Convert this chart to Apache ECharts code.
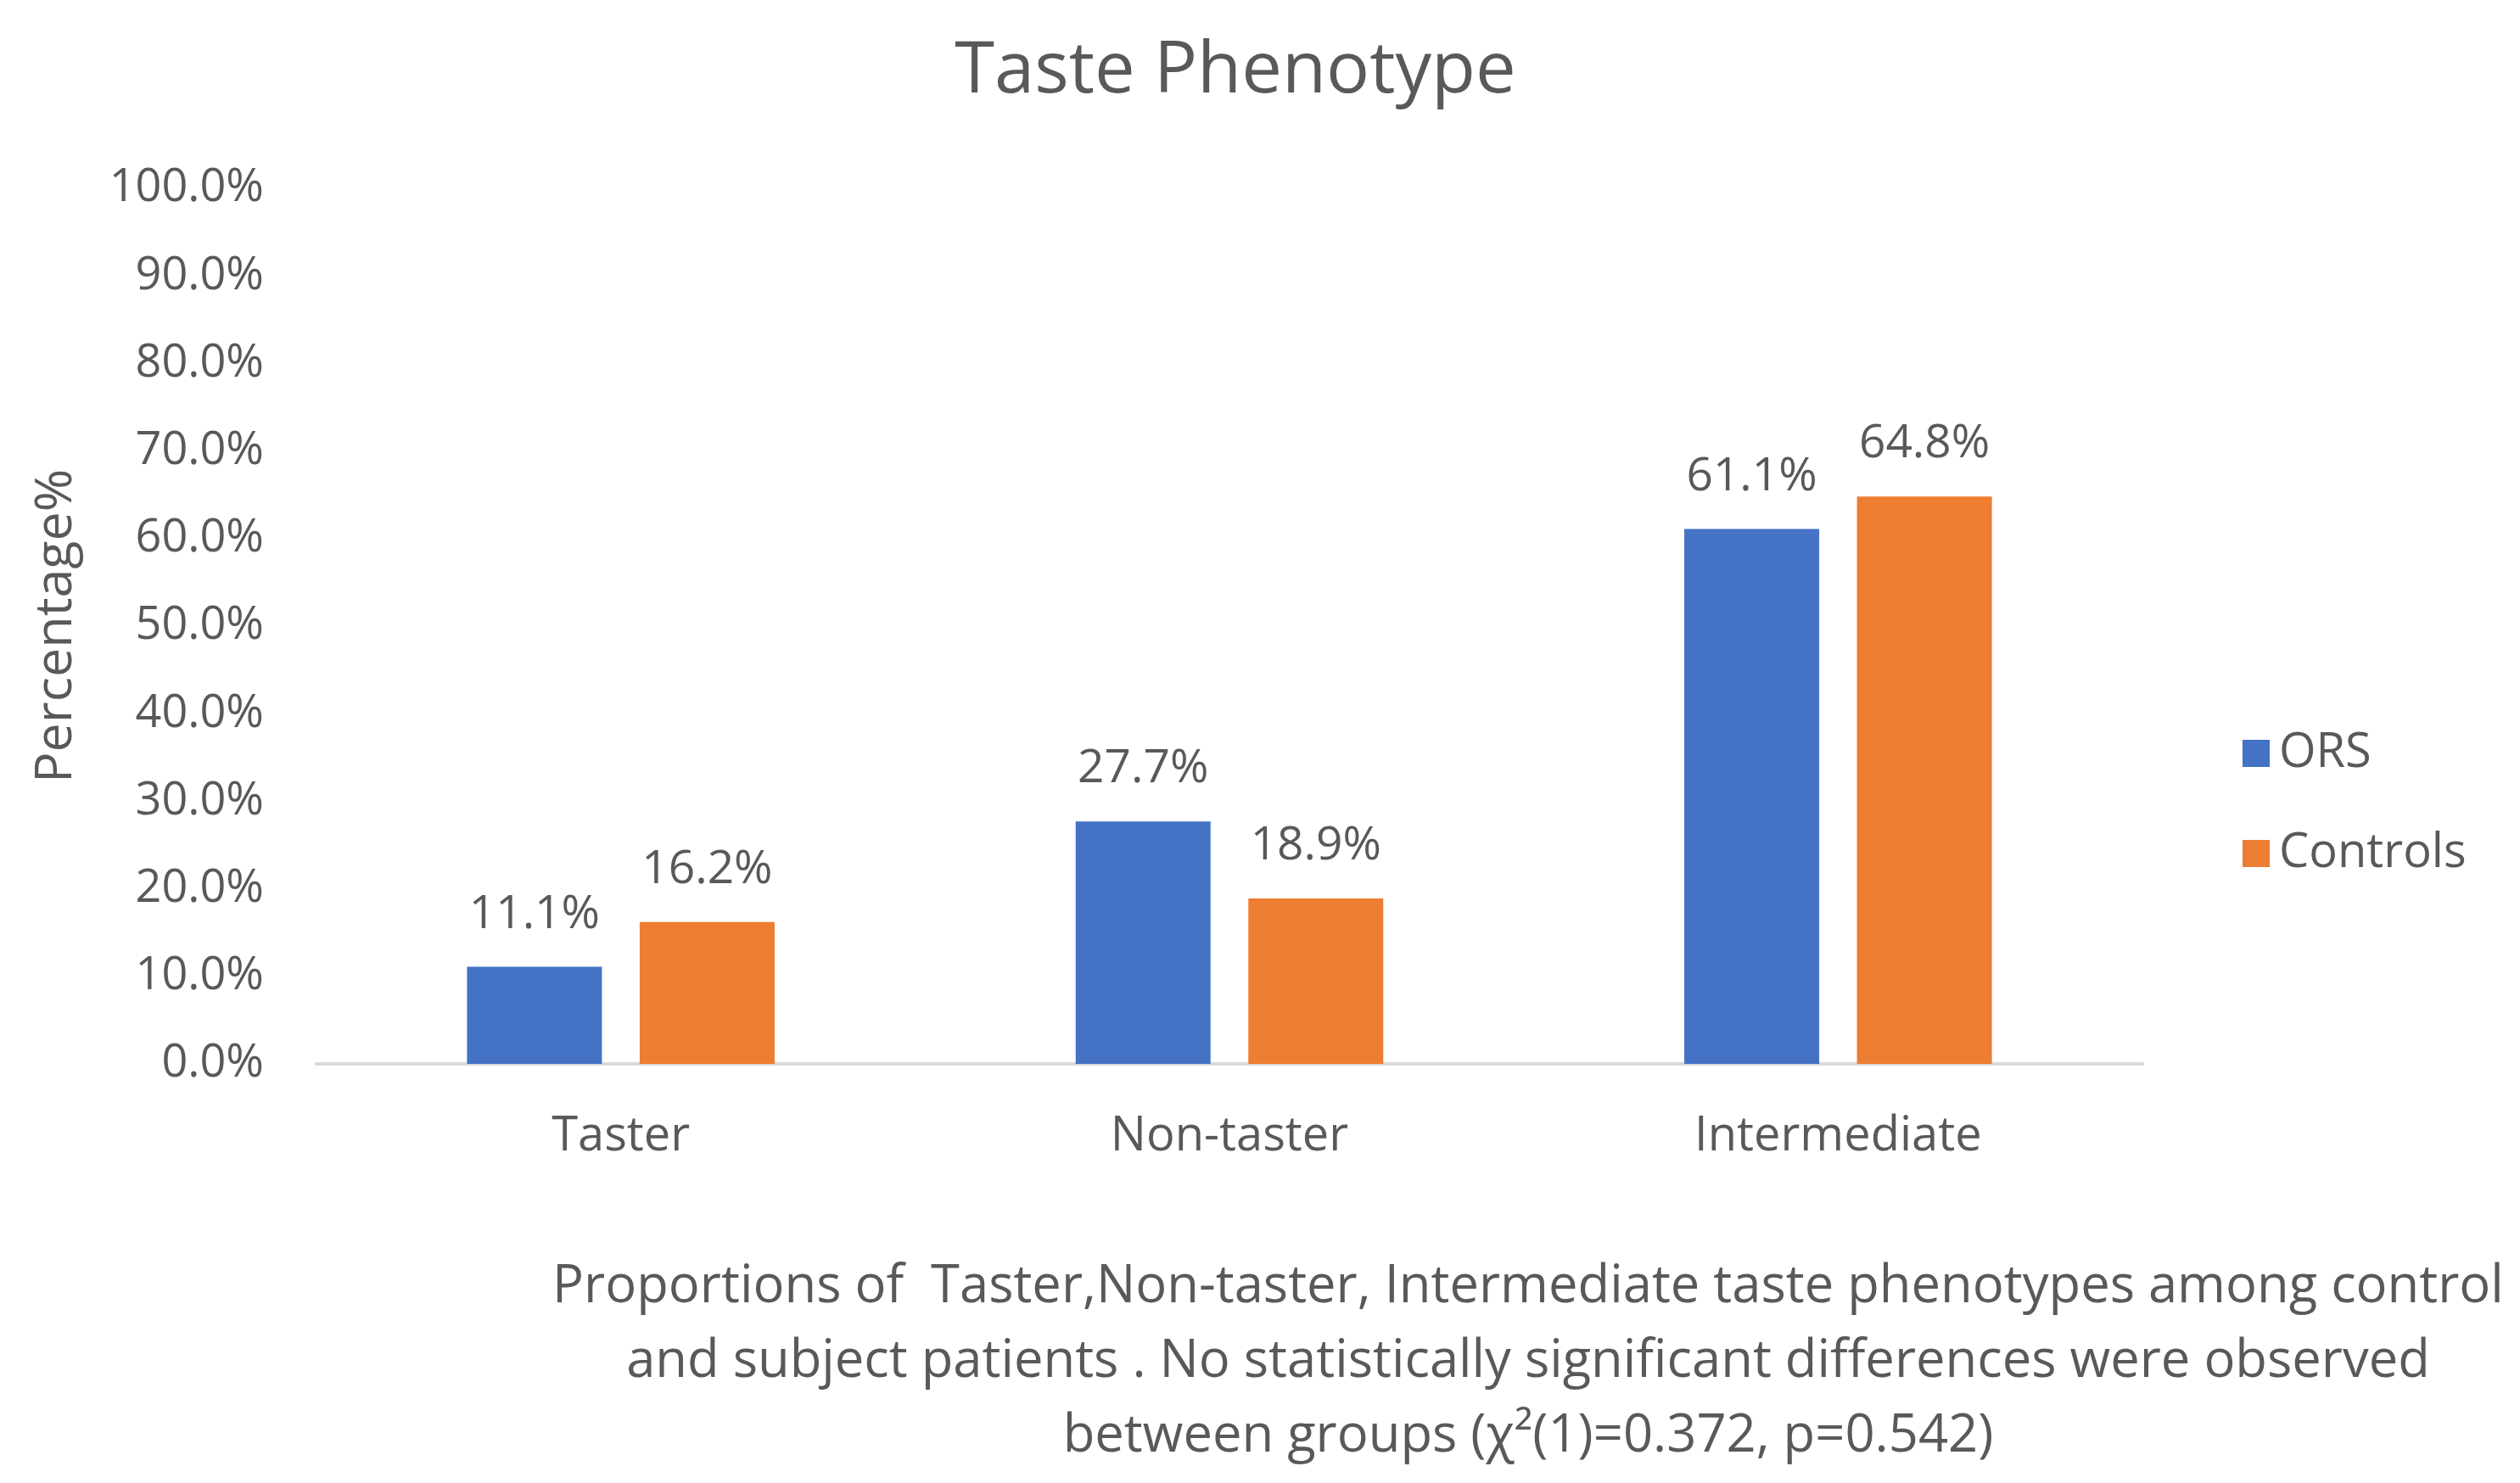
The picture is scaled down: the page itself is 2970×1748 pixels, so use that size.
<!DOCTYPE html>
<html>
<head>
<meta charset="utf-8">
<script src="https://cdn.jsdelivr.net/npm/echarts@6/dist/echarts.min.js"></script>
<style>
  html, body { margin: 0; padding: 0; background: #fff; }
  #chart { width: 2970px; height: 1748px; }
</style>
</head>
<body>
<div id="chart"></div>
<script>
const categories = ['Taster', 'Non-taster', 'Intermediate'];
const orsValues = [11.1, 27.7, 61.1];
const controlValues = [16.2, 18.9, 64.8];
const seriesNames = ['ORS', 'Controls'];
const captionLines = [
  'Proportions of  Taster,Non-taster, Intermediate taste phenotypes among control',
  'and subject patients . No statistically significant differences were observed',
  'between groups (\u03c7\u00b2(1)=0.372, p=0.542)'
];

document.addEventListener('DOMContentLoaded', function() {
  const chart = echarts.init(document.getElementById('chart'));
  const font = '"Open Sans", "Noto Sans", sans-serif';
  const textColor = '#595959';

  const labelStyle = {
    show: true,
    position: 'top',
    distance: 34,
    color: textColor,
    fontFamily: font,
    fontSize: 55,
    formatter: function(p) { return p.value.toFixed(1) + '%'; }
  };

  const option = {
    animation: false,
    backgroundColor: '#fff',
    textStyle: { fontFamily: font },
    title: [{
      text: 'Taste Phenotype',
      left: 1451,
      top: 37,
      textAlign: 'center',
      textStyle: { color: textColor, fontFamily: font, fontSize: 85, fontWeight: 'normal' }
    }, {
      text: captionLines.join('\n'),
      left: 1796,
      top: 1468,
      textAlign: 'center',
      textStyle: { color: textColor, fontFamily: font, fontSize: 61.5, fontWeight: 'normal', lineHeight: 88 }
    }],
    legend: {
      orient: 'vertical',
      left: 2638,
      top: 855,
      itemWidth: 32,
      itemHeight: 32,
      itemGap: 62,
      icon: 'rect',
      data: seriesNames,
      textStyle: { color: textColor, fontFamily: font, fontSize: 56, padding: [0, 0, 0, 6] }
    },
    grid: { left: 373, right: 445, top: 222, bottom: 494, containLabel: false },
    xAxis: {
      type: 'category',
      data: categories,
      axisLine: { lineStyle: { color: '#d9d9d9', width: 4 } },
      axisTick: { show: false },
      axisLabel: { color: textColor, fontFamily: font, fontSize: 56, margin: 58 }
    },
    yAxis: {
      type: 'value',
      min: 0,
      max: 100,
      interval: 10,
      name: 'Percentage%',
      nameLocation: 'middle',
      nameGap: 276,
      nameRotate: 90,
      nameTextStyle: { color: textColor, fontFamily: font, fontSize: 61 },
      axisLine: { show: false },
      axisTick: { show: false },
      splitLine: { show: false },
      axisLabel: {
        color: textColor,
        fontFamily: font,
        fontSize: 54,
        margin: 62,
        formatter: function(v) { return v.toFixed(1) + '%'; }
      }
    },
    series: [{
      name: seriesNames[0],
      type: 'bar',
      data: orsValues,
      barWidth: 159,
      barGap: '28%',
      itemStyle: { color: '#4472c4' },
      label: labelStyle
    }, {
      name: seriesNames[1],
      type: 'bar',
      data: controlValues,
      barWidth: 159,
      itemStyle: { color: '#ed7d31' },
      label: labelStyle
    }]
  };
  chart.setOption(option);
});
</script>
</body>
</html>
